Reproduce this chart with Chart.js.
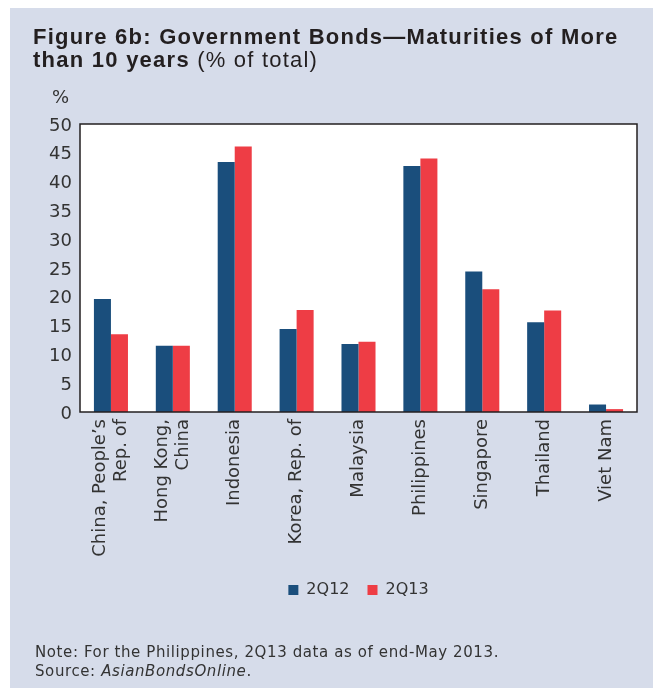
<!DOCTYPE html>
<html>
<head>
<meta charset="utf-8">
<script src="https://cdn.jsdelivr.net/npm/chart.js@4.4.0/dist/chart.umd.min.js"></script>
<style>
  body { margin: 0; background: #fff; }
  #panel { position: absolute; left: 10px; top: 8px; width: 643px; height: 680px; background: #d6dcea; }
  #chart { position: absolute; left: 0; top: 0; }
  .title { position: absolute; left: 23px; top: 17px; font: bold 22px "Liberation Sans", Arial, sans-serif;
           letter-spacing: 1.25px; color: #231f20; line-height: 23.4px; white-space: nowrap; }
  .title span { font-weight: normal; letter-spacing: 1.2px; }
  .unit { position: absolute; left: 42px; top: 78px; font: 18px "DejaVu Sans", sans-serif; color: #333; }
  .note { position: absolute; left: 25px; top: 635px; font: 15px "DejaVu Sans", sans-serif; color: #333;
          letter-spacing: 0.6px; line-height: 19px; white-space: nowrap; }
</style>
</head>
<body>
<div id="panel">
  <canvas id="chart" width="643" height="680"></canvas>
  <div class="title">Figure 6b: Government Bonds—Maturities of More<br>than 10 years <span>(% of total)</span></div>
  <div class="unit">%</div>
  <div class="note">Note: For the Philippines, 2Q13 data as of end-May 2013.<br>Source: <i>AsianBondsOnline</i>.</div>
</div>
<script>
// economias (rótulos do eixo X)
const categorias = [
  ['China, People’s', 'Rep. of'],
  ['Hong Kong,', 'China'],
  'Indonesia',
  'Korea, Rep. of',
  'Malaysia',
  'Philippines',
  'Singapore',
  'Thailand',
  'Viet Nam'
];

// % do total com vencimento acima de 10 anos
const valores2Q12 = [19.6, 11.5, 43.4, 14.4, 11.8, 42.7, 24.4, 15.6, 1.3];
const valores2Q13 = [13.5, 11.5, 46.1, 17.7, 12.2, 44.0, 21.3, 17.6, 0.5];

const ticksY = [0, 5, 10, 15, 20, 25, 30, 35, 40, 45, 50];

// fundo branco e moldura da área do gráfico
const molduraPlugin = {
  id: 'moldura',
  beforeDraw(chart) {
    const { ctx, chartArea: a } = chart;
    ctx.save();
    ctx.fillStyle = '#fff';
    ctx.fillRect(a.left, a.top, a.right - a.left, a.bottom - a.top);
    ctx.restore();

    // centraliza os rótulos de duas linhas no meio da categoria
    chart.scales.x.getLabelItems().forEach(item => {
      if (Array.isArray(item.label) && !item._centrado) {
        item.textOffset -= (item.label.length - 1) * item.font.lineHeight / 2;
        item._centrado = true;
      }
    });
  },
  afterDatasetsDraw(chart) {
    const { ctx, chartArea: a } = chart;
    ctx.save();
    ctx.strokeStyle = '#231f20';
    ctx.lineWidth = 1.5;
    ctx.strokeRect(a.left, a.top, a.right - a.left, a.bottom - a.top);
    ctx.restore();
  }
};

const fonte = { family: '"DejaVu Sans", sans-serif', size: 18 };

new Chart(document.getElementById('chart'), {
  type: 'bar',
  data: {
    labels: categorias,
    datasets: [
      { label: '2Q12', data: valores2Q12, backgroundColor: '#1a4e7c' },
      { label: '2Q13', data: valores2Q13, backgroundColor: '#ee3d45' }
    ]
  },
  options: {
    responsive: false,
    animation: false,
    categoryPercentage: 0.55,
    barPercentage: 1.0,
    layout: { padding: { top: 116, right: 16, bottom: 80, left: 0 } },
    scales: {
      x: {
        grid: { display: false, drawTicks: false },
        border: { display: false },
        ticks: { color: '#333', font: fonte, minRotation: 90, maxRotation: 90, padding: 7, autoSkip: false },
        afterFit: (s) => { s.height = 152; }
      },
      y: {
        min: 0,
        max: 50,
        grid: { display: false, drawTicks: false },
        border: { display: false },
        afterBuildTicks: (s) => { s.ticks = ticksY.map(v => ({ value: v })); },
        ticks: { color: '#333', font: fonte, padding: 8, labelOffset: 2 },
        afterFit: (s) => { s.width = 70; }
      }
    },
    plugins: {
      legend: {
        position: 'bottom',
        fullSize: false,
        labels: {
          boxWidth: 10,
          boxHeight: 10,
          padding: 18,
          color: '#333',
          font: { family: '"DejaVu Sans", sans-serif', size: 16 }
        }
      },
      tooltip: { enabled: false }
    }
  },
  plugins: [molduraPlugin]
});
</script>
</body>
</html>
